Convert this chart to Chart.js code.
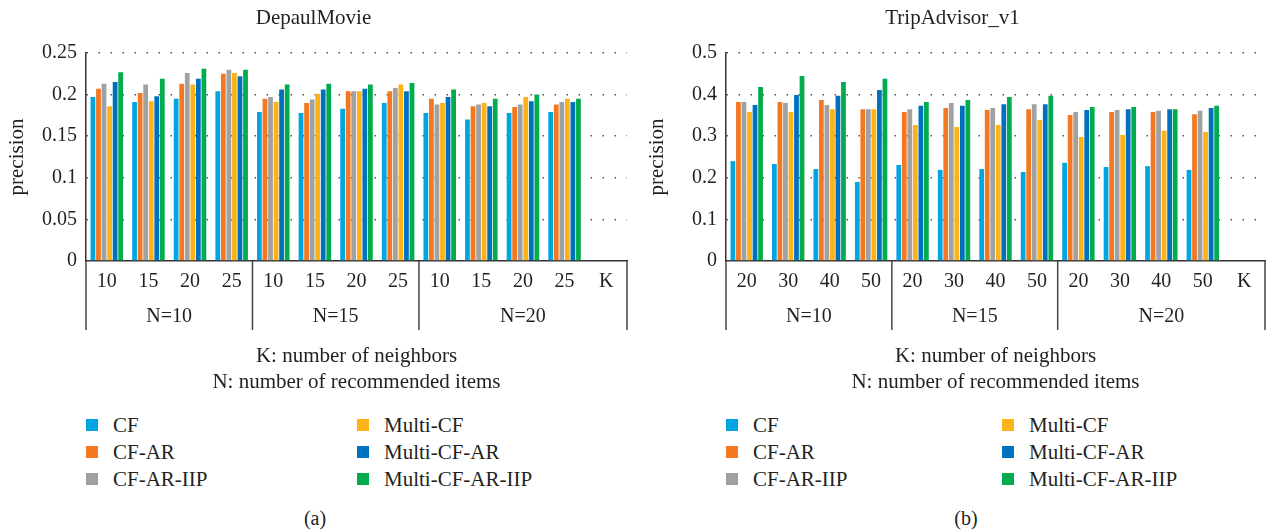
<!DOCTYPE html>
<html><head><meta charset="utf-8">
<script src="https://cdn.jsdelivr.net/npm/chart.js@4.4.0/dist/chart.umd.min.js"></script>
<style>
body{margin:0;background:#fff;width:1268px;height:530px;overflow:hidden;position:relative;font-family:"Liberation Serif",serif;color:#231f20}
canvas{position:absolute;top:0}
.lg{position:absolute;font-size:21px;line-height:20px;white-space:nowrap}
.sw{position:absolute;width:12px;height:12px}
.cap{position:absolute;font-size:20px;line-height:20px;transform:translate(-50%,-50%)}
</style></head><body>
<canvas id="c1" width="634" height="400" style="left:0"></canvas>
<canvas id="c2" width="628" height="400" style="left:640px"></canvas>
<script>
// ---- data ----
const seriesNames = ['CF','CF-AR','CF-AR-IIP','Multi-CF','Multi-CF-AR','Multi-CF-AR-IIP'];
const seriesColors = ['#00A5E1','#F47821','#A0A1A3','#FDB318','#0072BD','#00AC4E'];
const groupLabels = ['N=10','N=15','N=20'];
const xTitle = ['K: number of neighbors','N: number of recommended items'];

const depaulTitle = 'DepaulMovie';
const depaulLabels = ['10','15','20','25','10','15','20','25','10','15','20','25','K'];
const depaulCF        = [0.197,0.191,0.195,0.204, 0.179,0.178,0.183,0.190, 0.178,0.170,0.178,0.179];
const depaulCFAR      = [0.207,0.202,0.213,0.225, 0.195,0.190,0.204,0.204, 0.195,0.186,0.185,0.188];
const depaulCFARIIP   = [0.213,0.212,0.226,0.230, 0.197,0.194,0.204,0.208, 0.188,0.188,0.188,0.191];
const depaulMulti     = [0.186,0.192,0.212,0.226, 0.191,0.201,0.204,0.212, 0.190,0.190,0.197,0.195];
const depaulMultiAR   = [0.215,0.198,0.219,0.222, 0.206,0.206,0.207,0.204, 0.197,0.186,0.192,0.191];
const depaulMultiARIIP= [0.227,0.219,0.231,0.230, 0.212,0.213,0.212,0.214, 0.206,0.195,0.200,0.195];

const tripTitle = 'TripAdvisor_v1';
const tripLabels = ['20','30','40','50','20','30','40','50','20','30','40','50','K'];
const tripCF        = [0.240,0.233,0.221,0.190, 0.231,0.219,0.221,0.214, 0.236,0.226,0.228,0.219];
const tripCFAR      = [0.382,0.382,0.387,0.365, 0.358,0.368,0.363,0.365, 0.351,0.358,0.358,0.353];
const tripCFARIIP   = [0.382,0.380,0.375,0.365, 0.365,0.380,0.368,0.377, 0.358,0.363,0.361,0.361];
const tripMulti     = [0.358,0.358,0.365,0.365, 0.327,0.322,0.327,0.339, 0.298,0.303,0.313,0.310];
const tripMultiAR   = [0.375,0.399,0.397,0.411, 0.373,0.373,0.377,0.377, 0.363,0.365,0.365,0.368];
const tripMultiARIIP= [0.418,0.445,0.430,0.438, 0.382,0.387,0.394,0.397, 0.370,0.370,0.365,0.373];

const FONT = '"Liberation Serif", "Times New Roman", serif';
const TXT = '#231f20';

const tablePlugin = {
  id: 'groupTable',
  afterDraw(chart, args, opts) {
    const x = chart.scales.x, ctx = chart.ctx, ca = chart.chartArea;
    const top = ca.bottom, bottom = ca.bottom + 69;
    const edges = [-0.5, 3.5, 7.5, 12.5].map(v => x.getPixelForValue(v));
    ctx.save();
    ctx.strokeStyle = '#444';
    ctx.lineWidth = 1.5;
    edges.forEach(px => {
      ctx.beginPath(); ctx.moveTo(px, top); ctx.lineTo(px, bottom); ctx.stroke();
    });
    ctx.fillStyle = TXT;
    ctx.font = '20px ' + FONT;
    ctx.textAlign = 'center';
    ctx.textBaseline = 'middle';
    groupLabels.forEach((g, i) => {
      ctx.fillText(g, (edges[i] + edges[i + 1]) / 2, top + 56);
    });
    ctx.restore();
  }
};

function makeChart(id, title, labels, series, yMax, step, padRight) {
  const datasets = series.map((vals, i) => ({
    label: seriesNames[i],
    data: vals.concat([null]),
    backgroundColor: seriesColors[i],
    borderWidth: 0,
    barPercentage: 0.86,
    categoryPercentage: 0.8
  }));
  return new Chart(document.getElementById(id), {
    type: 'bar',
    data: { labels: labels, datasets: datasets },
    plugins: [tablePlugin],
    options: {
      responsive: false,
      animation: false,
      devicePixelRatio: 1,
      layout: { padding: { left: 0, right: padRight, top: 0, bottom: 0 } },
      plugins: {
        legend: { display: false },
        tooltip: { enabled: false },
        title: {
          display: true, text: title, color: TXT,
          font: { family: FONT, size: 21, weight: 'normal', lineHeight: 1.2 },
          padding: { top: 6, bottom: 21.8 }
        }
      },
      scales: {
        x: {
          grid: { display: false, drawTicks: false },
          border: { display: true, color: '#333', width: 1.5 },
          ticks: { color: TXT, font: { family: FONT, size: 20 }, padding: 9, autoSkip: false, maxRotation: 0 },
          title: { display: true, text: xTitle, color: TXT,
                   font: { family: FONT, size: 21, lineHeight: 1.24 }, padding: { top: 0, bottom: 4 } },
          afterFit(s) { s.height = 139; }
        },
        y: {
          min: 0, max: yMax,
          grid: {
            drawTicks: false,
            lineWidth: 1.5,
            color: c => (c.tick && c.tick.value === 0) ? 'rgba(0,0,0,0)' : '#555'
          },
          border: { display: true, color: '#333', width: 1.5, dash: [1.5, 10.5], dashOffset: -12 },
          ticks: { stepSize: step, color: TXT, font: { family: FONT, size: 20 }, padding: 9,
                   callback: v => String(+v.toFixed(2)) },
          title: { display: true, text: 'precision', color: TXT,
                   font: { family: FONT, size: 21, lineHeight: 1.2 }, padding: { top: 5, bottom: 0 } },
          afterFit(s) { s.width = 86; }
        }
      }
    }
  });
}

const ch1 = makeChart('c1', depaulTitle, depaulLabels,
  [depaulCF, depaulCFAR, depaulCFARIIP, depaulMulti, depaulMultiAR, depaulMultiARIIP], 0.25, 0.05, 7);
const ch2 = makeChart('c2', tripTitle, tripLabels,
  [tripCF, tripCFAR, tripCFARIIP, tripMulti, tripMultiAR, tripMultiARIIP], 0.5, 0.1, 3);

function addLegend(chart, offsetX, col2, caption, capX) {
  const left = offsetX + chart.chartArea.left;
  const rows = [425, 452, 479];
  chart.data.datasets.forEach((ds, i) => {
    const col = Math.floor(i / 3), row = i % 3;
    const sx = col === 0 ? left : offsetX + col2;
    const sw = document.createElement('div');
    sw.className = 'sw';
    sw.style.left = sx + 'px'; sw.style.top = (rows[row] - 6) + 'px';
    sw.style.background = ds.backgroundColor;
    document.body.appendChild(sw);
    const t = document.createElement('div');
    t.className = 'lg';
    t.textContent = ds.label;
    t.style.left = (sx + 27) + 'px'; t.style.top = (rows[row] - 10) + 'px';
    document.body.appendChild(t);
  });
  const c = document.createElement('div');
  c.className = 'cap'; c.textContent = caption;
  c.style.left = capX + 'px'; c.style.top = '518px';
  document.body.appendChild(c);
}
addLegend(ch1, 0, 357, '(a)', 315);
addLegend(ch2, 640, 362, '(b)', 966);
</script>
</body></html>
